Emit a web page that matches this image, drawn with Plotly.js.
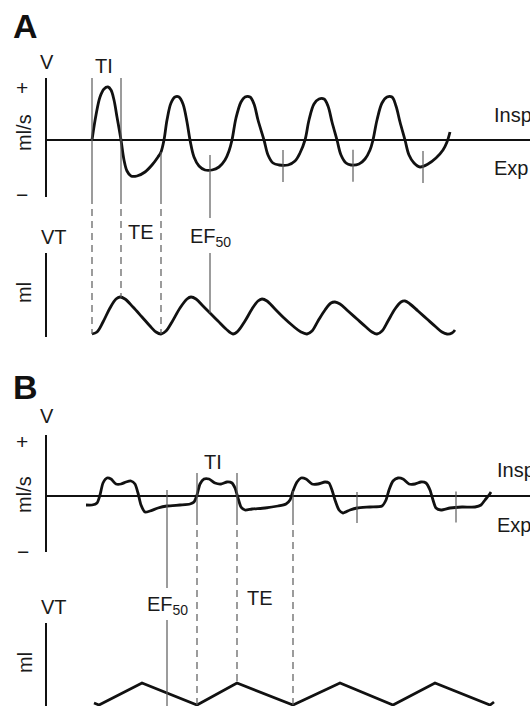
<!DOCTYPE html>
<html>
<head>
<meta charset="utf-8">
<script src="https://cdn.plot.ly/plotly-3.0.1.min.js"></script>
<style>html,body{margin:0;padding:0;background:#fff;}#chart{width:530px;height:706px;}</style>
</head>
<body>
<div id="chart"></div>
<script>
// ---------- DATA (time in arbitrary units, flow/volume in arbitrary units) ----------
// Panel A : flow (V, ml/s)
const A_flow_t = [92,96,100,104,108,111,114,117,121,124,127,131,137,145,152,158,161,164,167,171,175,179,183,187,190,194,199,205,212,219,225,229,232,236,241,245,250,254,258,264,268,273,279,288,295,300,305,309,314,319,324,328,332,337,341,346,351,359,365,370,373,377,382,387,392,396,400,405,409,414,420,428,436,443,447,450];
const A_flow_v = [0,25,43,51,53,50,40,23,0,-20,-31,-36,-36,-32,-25,-17,-12,0,20,37,43,43,36,18,0,-17,-26,-30,-30,-27,-20,-11,0,22,38,43,43,36,20,0,-15,-23,-25,-25,-21,-13,0,20,36,41,41,34,18,0,-15,-23,-25,-24,-19,-10,0,20,37,43,43,34,18,0,-15,-23,-27,-24,-18,-10,-2,8];
// Panel A : volume (VT, ml)
const A_vol_t = [92,97,103,110,116,120,125,133,142,150,156,161,166,172,180,187,191,196,203,210,218,226,233,238,245,252,258,262,267,275,284,293,301,307,312,318,325,331,335,340,348,357,366,372,377,382,388,395,401,405,410,418,427,436,442,447,452,455];
const A_vol_v = [2,4,14,28,37,39,37,29,19,10,4,2,5,14,28,37,39,37,30,23,15,7,2,5,15,27,35,37,35,27,18,10,4,2,5,15,26,33,34,32,25,17,9,4,2,5,15,27,34,35,32,25,17,9,4,2,3,6];
// Panel A : timing markers
const A_TI = [92, 121];          // inspiratory time limits
const A_TE_END = 161;            // end of expiratory time
const A_EF50 = [210, 283, 353, 423];

// Panel B : flow (V, ml/s)
const B_flow_t = [86,92,97,100,103,107,111,116,121,126,131,135,138,141,145,150,158,167,180,190,194,197,200,204,209,215,221,227,232,235,238,241,245,252,265,278,286,290,293,297,301,306,312,318,325,329,332,335,339,343,350,357,370,382,386,389,393,398,403,409,415,421,426,430,433,436,441,450,462,475,481,485,489,491];
const B_flow_v = [-9,-9,-7,1,13,18,17,12,12,14,15,12,3,-9,-16,-15,-12,-10,-9,-8,-6,1,12,17,17,13,12,14,13,8,-2,-11,-14,-13,-12,-10,-8,-4,5,14,18,17,12,12,14,13,6,-4,-14,-17,-14,-12,-11,-10,-4,6,15,18,17,12,12,14,13,6,-4,-12,-14,-12,-11,-11,-9,-4,1,4];
// Panel B : volume (VT, ml)
const B_vol_t = [94,99,142,197,237,293,340,393,435,490,494];
const B_vol_v = [3,1,23,1,23,1,23,1,23,1,4];
// Panel B : timing markers
const B_TI = [197, 237];
const B_TE_END = 293;
const B_EF50 = [167, 357, 456];

// ---------- LAYOUT HELPERS ----------
const W = 530, H = 706;
const px = v => v / W;
const py = v => 1 - v / H;
const SUB = {
  aF: {dom: [py(197), py(78)], range: [-57, 62]},
  aV: {dom: [py(337), py(253)], range: [-1, 83]},
  bF: {dom: [py(552), py(435)], range: [-56, 61]},
  bV: {dom: [0, py(623)], range: [0, 83]}
};
function P(s, v) { return s.dom[0] + (v - s.range[0]) / (s.range[1] - s.range[0]) * (s.dom[1] - s.dom[0]); }
function interp(xs, ys, x) {
  if (x <= xs[0]) return ys[0];
  for (let i = 1; i < xs.length; i++) {
    if (x <= xs[i]) { const f = (x - xs[i-1]) / (xs[i] - xs[i-1]); return ys[i-1] + f * (ys[i] - ys[i-1]); }
  }
  return ys[ys.length - 1];
}
const GREY = '#5a5a5a';
function vline(x, y0, y1, dashed) {
  return {type: 'line', xref: 'x', yref: 'paper', x0: x, x1: x, y0: y0, y1: y1,
    line: {color: GREY, width: 1.2, dash: dashed ? '7px,5px' : 'solid'}};
}

const shapes = [];
// Panel A markers
A_TI.forEach(x => {
  shapes.push(vline(x, SUB.aF.dom[1], SUB.aF.dom[0], false));
  shapes.push(vline(x, SUB.aF.dom[0], P(SUB.aV, interp(A_vol_t, A_vol_v, x)), true));
});
shapes.push(vline(A_TE_END, P(SUB.aF, interp(A_flow_t, A_flow_v, A_TE_END)), SUB.aF.dom[0], false));
shapes.push(vline(A_TE_END, SUB.aF.dom[0], P(SUB.aV, interp(A_vol_t, A_vol_v, A_TE_END)), true));
A_EF50.forEach((x, i) => {
  const f = interp(A_flow_t, A_flow_v, x);
  if (i === 0) {
    shapes.push(vline(x, P(SUB.aF, f + 15), py(218), false));
    shapes.push(vline(x, SUB.aV.dom[1], P(SUB.aV, interp(A_vol_t, A_vol_v, x)), false));
  } else {
    shapes.push(vline(x, P(SUB.aF, f + 15), P(SUB.aF, f - 17), false));
  }
});
// Panel B markers
B_TI.forEach(x => {
  shapes.push(vline(x, P(SUB.bF, 23), P(SUB.bF, -22), false));
  shapes.push(vline(x, P(SUB.bF, -22), P(SUB.bV, interp(B_vol_t, B_vol_v, x)), true));
});
shapes.push(vline(B_TE_END, P(SUB.bF, interp(B_flow_t, B_flow_v, B_TE_END)), P(SUB.bF, -22), false));
shapes.push(vline(B_TE_END, P(SUB.bF, -22), P(SUB.bV, interp(B_vol_t, B_vol_v, B_TE_END)), true));
B_EF50.forEach((x, i) => {
  const f = interp(B_flow_t, B_flow_v, x);
  if (i === 0) {
    shapes.push(vline(x, P(SUB.bF, f + 16), py(588), false));
    shapes.push(vline(x, py(620), SUB.bV.dom[0], false));
  } else {
    shapes.push(vline(x, P(SUB.bF, f + 16), P(SUB.bF, f - 15), false));
  }
});

// ---------- TRACES ----------
const CURVE = {color: '#111', width: 2.8};
const traces = [
  {x: A_flow_t, y: A_flow_v, xaxis: 'x', yaxis: 'y', type: 'scatter', mode: 'lines', line: Object.assign({shape: 'spline', smoothing: 1}, CURVE), hoverinfo: 'skip'},
  {x: A_vol_t, y: A_vol_v, xaxis: 'x', yaxis: 'y2', type: 'scatter', mode: 'lines', line: Object.assign({shape: 'spline', smoothing: 1}, CURVE), hoverinfo: 'skip'},
  {x: B_flow_t, y: B_flow_v, xaxis: 'x', yaxis: 'y3', type: 'scatter', mode: 'lines', line: Object.assign({shape: 'spline', smoothing: 0.6}, CURVE), hoverinfo: 'skip'},
  {x: B_vol_t, y: B_vol_v, xaxis: 'x', yaxis: 'y4', type: 'scatter', mode: 'lines', line: Object.assign({shape: 'linear'}, CURVE), hoverinfo: 'skip'}
];

// ---------- ANNOTATIONS ----------
const FONT = 'Liberation Sans, Arial, Helvetica, sans-serif';
const TXT = '#1a1a1a';
function txt(text, x, y, opts) {
  return Object.assign({text: text, x: x, y: y, xref: 'paper', yref: 'paper', showarrow: false,
    xanchor: 'center', yanchor: 'middle', font: {family: FONT, size: 20, color: TXT}}, opts || {});
}
const mean = a => a.reduce((s, v) => s + v, 0) / a.length;
const SIGN = {font: {family: FONT, size: 21, color: TXT}};
const annotations = [
  txt('<b>A</b>', px(11), py(26), {xanchor: 'left', font: {family: FONT, size: 34, color: '#111'}}),
  txt('V', px(46.5), py(62)),
  txt('+', px(22), py(87), SIGN),
  txt('ml/s', px(24), py(133), {textangle: -90}),
  txt('−', px(22), py(194), SIGN),
  txt('VT', px(54), py(237)),
  txt('ml', px(24), py(293), {textangle: -90}),
  txt('TI', px(mean(A_TI) - 3), py(66)),
  txt('TE', px((A_TI[1] + A_TE_END) / 2), py(232)),
  txt('EF<sub>50</sub>', px(A_EF50[0] - 22), py(237), {xanchor: 'left'}),
  txt('Insp', px(492), py(115), {xanchor: 'left'}),
  txt('Exp', px(492), py(168), {xanchor: 'left'}),

  txt('<b>B</b>', px(11), py(387), {xanchor: 'left', font: {family: FONT, size: 34, color: '#111'}}),
  txt('V', px(47), py(416)),
  txt('+', px(22), py(442), SIGN),
  txt('ml/s', px(24), py(495), {textangle: -90}),
  txt('−', px(23), py(551), SIGN),
  txt('VT', px(54), py(607)),
  txt('ml', px(25), py(663), {textangle: -90}),
  txt('TI', px(mean(B_TI) - 4), py(462)),
  txt('TE', px((B_TI[1] + B_TE_END) / 2 - 5), py(598)),
  txt('EF<sub>50</sub>', px(B_EF50[0] - 22), py(605), {xanchor: 'left'}),
  txt('Insp', px(495), py(470), {xanchor: 'left'}),
  txt('Exp', px(495), py(525), {xanchor: 'left'})
];

// ---------- AXES ----------
function yax(s, zero) {
  return {domain: s.dom, range: s.range, anchor: 'x', showline: true, linecolor: '#111', linewidth: 2,
    ticks: '', showticklabels: false, showgrid: false, zeroline: zero, zerolinecolor: '#111', zerolinewidth: 2,
    fixedrange: true};
}
const layout = {
  width: W, height: H,
  margin: {l: 0, r: 0, t: 0, b: 0},
  paper_bgcolor: '#fff', plot_bgcolor: 'rgba(0,0,0,0)',
  showlegend: false,
  xaxis: {domain: [px(47), 1], range: [47, 530], visible: false, fixedrange: true},
  yaxis: yax(SUB.aF, true),
  yaxis2: yax(SUB.aV, false),
  yaxis3: yax(SUB.bF, true),
  yaxis4: yax(SUB.bV, false),
  shapes: shapes,
  annotations: annotations
};
Plotly.newPlot('chart', traces, layout, {displayModeBar: false, staticPlot: true});
</script>
</body>
</html>
